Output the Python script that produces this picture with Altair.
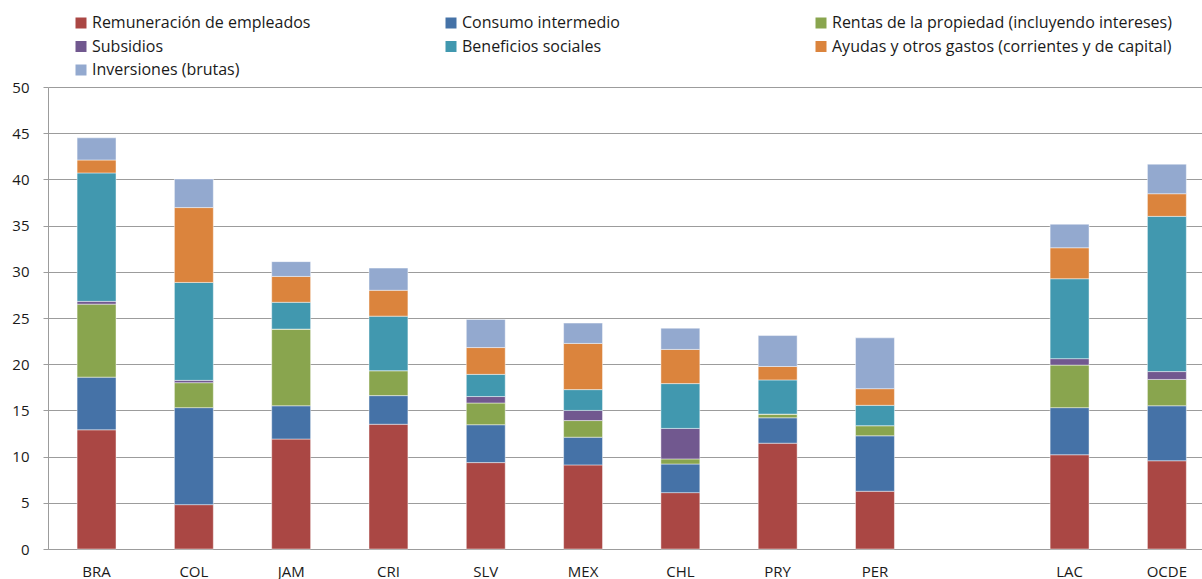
import altair as alt
import pandas as pd

# Countries / aggregates on the x axis; " " keeps an empty slot before the regional averages
countries = ["BRA", "COL", "JAM", "CRI", "SLV", "MEX", "CHL", "PRY", "PER", "LAC", "OCDE"]
x_domain = ["BRA", "COL", "JAM", "CRI", "SLV", "MEX", "CHL", "PRY", "PER", " ", "LAC", "OCDE"]

series = [
    "Remuneración de empleados",
    "Consumo intermedio",
    "Rentas de la propiedad (incluyendo intereses)",
    "Subsidios",
    "Beneficios sociales",
    "Ayudas y otros gastos (corrientes y de capital)",
    "Inversiones (brutas)",
]
colors = ["#AA4744", "#4572A7", "#89A54E", "#71588F", "#4198AF", "#DB843D", "#93A9CF"]

# Spending components, % of GDP (stacked bottom to top in series order)
remuneracion = [12.9, 4.8, 11.9, 13.5, 9.35, 9.1, 6.1, 11.45, 6.25, 10.2, 9.55]
consumo      = [5.7, 10.5, 3.6, 3.1, 4.1, 3.0, 3.1, 2.75, 6.0, 5.1, 5.95]
rentas       = [7.9, 2.7, 8.3, 2.7, 2.35, 1.8, 0.55, 0.4, 1.1, 4.6, 2.85]
subsidios    = [0.3, 0.25, 0.0, 0.0, 0.7, 1.1, 3.3, 0.0, 0.0, 0.7, 0.85]
beneficios   = [13.9, 10.6, 2.9, 5.9, 2.4, 2.25, 4.85, 3.7, 2.2, 8.65, 16.8]
ayudas       = [1.4, 8.1, 2.8, 2.8, 2.9, 5.0, 3.7, 1.45, 1.8, 3.35, 2.45]
inversiones  = [2.4, 3.1, 1.6, 2.4, 3.05, 2.2, 2.3, 3.35, 5.5, 2.55, 3.2]

values = [remuneracion, consumo, rentas, subsidios, beneficios, ayudas, inversiones]

rows = []
for idx, (name, vals) in enumerate(zip(series, values)):
    for country, v in zip(countries, vals):
        rows.append({"pais": country, "componente": name, "orden": idx, "valor": v})
df = pd.DataFrame(rows)

FONT = "Open Sans"
GRID = "#9C9C9C"

chart = (
    alt.Chart(df)
    .mark_bar(stroke="#ffffff", strokeWidth=1, strokeOpacity=0.45)
    .encode(
        x=alt.X(
            "pais:N",
            sort=x_domain,
            scale=alt.Scale(domain=x_domain, paddingInner=0.6, paddingOuter=0.23, align=0.65),
            axis=alt.Axis(
                title="",
                labelAngle=0,
                ticks=False,
                labelPadding=15,
                labelFontSize=15,
                labelFont=FONT,
                labelColor="#1a1a1a",
                domainColor=GRID,
                domainWidth=1,
                grid=False,
            ),
        ),
        y=alt.Y(
            "valor:Q",
            stack="zero",
            scale=alt.Scale(domain=[0, 50], nice=False),
            axis=alt.Axis(
                title="",
                values=[0, 5, 10, 15, 20, 25, 30, 35, 40, 45, 50],
                tickSize=5,
                tickColor=GRID,
                tickWidth=1,
                labelPadding=14,
                labelFontSize=15,
                labelFont=FONT,
                labelColor="#1a1a1a",
                domainColor=GRID,
                domainWidth=1,
                grid=True,
                gridColor=GRID,
                gridWidth=1,
            ),
        ),
        color=alt.Color(
            "componente:N",
            scale=alt.Scale(domain=series, range=colors),
            legend=alt.Legend(
                title="",
                orient="none",
                legendX=25,
                legendY=-72,
                columns=3,
                gridAlign="all",
                direction="horizontal",
                symbolType="square",
                symbolSize=121,
                symbolStrokeWidth=0,
                labelFontSize=16,
                labelFont=FONT,
                labelColor="#1a1a1a",
                labelOffset=3,
                labelLimit=600,
                rowPadding=7.5,
                columnPadding=11,
            ),
        ),
        order=alt.Order("orden:Q", sort="ascending"),
    )
    .properties(
        width=1154,
        height=462,
        autosize=alt.AutoSizeParams(type="none"),
        padding={"left": 48, "top": 87, "right": 0, "bottom": 30},
        background="#ffffff",
    )
    .configure_view(strokeWidth=0)
)

chart.save("out.html", embed_options={"renderer": "svg", "actions": False})
